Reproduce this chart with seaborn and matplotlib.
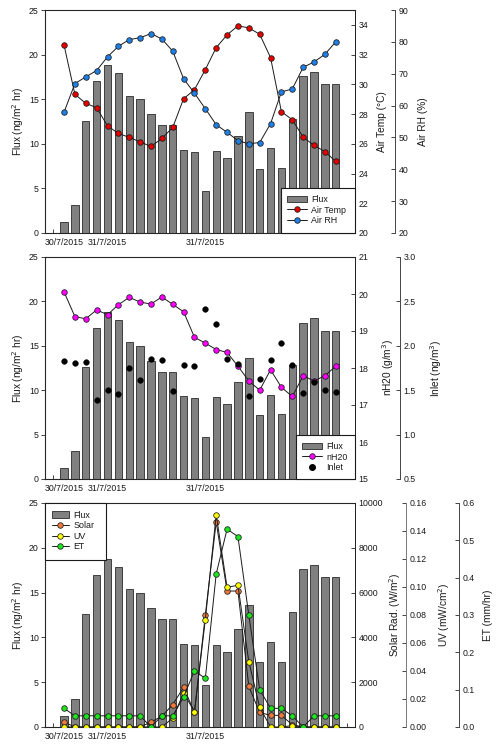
import numpy as np
import pandas as pd
import matplotlib
matplotlib.use("Agg")
import matplotlib.pyplot as plt
import seaborn as sns
from matplotlib.patches import Patch, Rectangle
from matplotlib.lines import Line2D
from matplotlib.ticker import FormatStrFormatter

sns.set_style("ticks")
plt.rcParams["font.family"] = ["Liberation Sans", "DejaVu Sans"]

# ---------------- data ----------------
hours = list(range(26))
date_tick_pos = [0, 4, 13]
date_tick_labels = ["30/7/2015", "31/7/2015", "31/7/2015"]

flux = [1.2, 3.1, 12.6, 17.0, 18.8, 17.9, 15.4, 15.0, 13.3, 12.1, 12.1, 9.3, 9.1,
        4.7, 9.2, 8.4, 10.9, 13.6, 7.2, 9.5, 7.3, 12.8, 17.6, 18.1, 16.7, 16.7]

air_temp = [32.65, 29.33, 28.72, 28.43, 27.21, 26.70, 26.43, 26.13, 25.82, 26.36,
            27.10, 29.03, 29.64, 30.99, 32.47, 33.33, 33.93, 33.80, 33.37, 31.80,
            28.16, 27.62, 26.45, 25.89, 25.48, 24.81]
air_rh = [57.9, 66.9, 69.0, 71.0, 75.3, 78.6, 80.7, 81.3, 82.6, 80.9, 77.1, 68.4,
          63.9, 59.0, 54.0, 51.6, 49.0, 48.0, 48.4, 54.3, 64.3, 65.2, 72.0, 73.7,
          76.1, 80.0]

nh20 = [20.06, 19.39, 19.33, 19.57, 19.44, 19.71, 19.91, 19.78, 19.73, 19.92,
        19.72, 19.52, 18.83, 18.67, 18.50, 18.42, 18.05, 17.65, 17.40, 17.95,
        17.48, 17.23, 17.79, 17.65, 17.79, 18.05]
inlet = [1.83, 1.81, 1.82, 1.39, 1.50, 1.46, 1.75, 1.61, 1.85, 1.84, 1.49, 1.78,
         1.77, 2.42, 2.24, 1.85, 1.79, 1.43, 1.63, 1.84, 2.03, 1.78, 1.47, 1.59,
         1.50, 1.48]

solar = [220, 0, 0, 0, 0, 0, 0, 0, 220, 480, 1000, 1770, 650, 5000, 9150, 6070,
         6070, 1810, 650, 520, 520, 100, 0, 0, 0, 0]
uv = [0, 0, 0, 0, 0, 0, 0, 0, 0, 0, 0.0064, 0.0243, 0.011, 0.0767, 0.1517, 0.0998,
      0.1012, 0.0467, 0.014, 0, 0, 0.001, 0, 0, 0, 0]
et = [0.05, 0.03, 0.03, 0.03, 0.03, 0.03, 0.03, 0.03, 0.0, 0.03, 0.03, 0.08, 0.151,
      0.13, 0.41, 0.53, 0.51, 0.30, 0.10, 0.05, 0.05, 0.03, 0.0, 0.03, 0.03, 0.03]

# ---------------- styling ----------------
W, H = 502, 749
AX_L, AX_R = 45, 355
TICK_FS = 6.3
LAB_FS = 7.3
LEG_FS = 6.4
TXT = "#1a1a1a"
BAR_C = "#808080"
BAR_E = "#2a2a2a"
XLIM = (-1.75, 26.77)
MS = 4.0

fig = plt.figure(figsize=(W / 100, H / 100), dpi=100)


def px_axes(top, bottom):
    return fig.add_axes([AX_L / W, (H - bottom) / H, (AX_R - AX_L) / W, (bottom - top) / H])


def style_main(ax):
    sns.barplot(x=hours, y=flux, ax=ax, color=BAR_C, width=0.68, edgecolor=BAR_E,
                linewidth=0.6, saturation=1, order=hours)
    ax.set_ylim(0, 25)
    ax.set_yticks([0, 5, 10, 15, 20, 25])
    ax.set_ylabel("Flux (ng/m$^2$ hr)", fontsize=LAB_FS, color=TXT)
    ax.yaxis.set_label_coords(-0.062, 0.5)
    ax.set_xlabel("")
    ax.set_xticks(date_tick_pos)
    ax.set_xticklabels(date_tick_labels)
    ax.set_xticks([-1, 26], minor=True)
    ax.tick_params(axis="x", which="major", length=0, pad=3.5, labelsize=TICK_FS, labelcolor=TXT)
    ax.tick_params(axis="x", which="minor", length=3, direction="in", width=0.6)
    ax.tick_params(axis="y", direction="out", length=3, width=0.6, pad=1.5,
                   labelsize=TICK_FS, labelcolor=TXT)
    for s in ax.spines.values():
        s.set_linewidth(0.7)
        s.set_color("#222222")
        s.set_visible(True)


def style_right(ax, ylim, ticks, label, label_x, fmt=None, offset_px=0, spine_c="#222222"):
    ax.set_ylim(*ylim)
    ax.set_yticks(ticks)
    if fmt:
        ax.yaxis.set_major_formatter(FormatStrFormatter(fmt))
    ax.set_ylabel(label, fontsize=LAB_FS, color=TXT)
    ax.yaxis.set_label_coords(label_x, 0.5)
    ax.tick_params(axis="y", direction="in", length=3, width=0.6, pad=2.5,
                   labelsize=TICK_FS, labelcolor=TXT)
    if offset_px:
        ax.spines["right"].set_position(("axes", 1 + offset_px / (AX_R - AX_L)))
        for k in ("left", "top", "bottom"):
            ax.spines[k].set_visible(False)
    ax.spines["right"].set_linewidth(0.7)
    ax.spines["right"].set_color(spine_c)


def line(ax, y, face):
    sns.lineplot(x=hours, y=y, ax=ax, color="#1a1a1a", lw=0.7, marker="o", ms=MS,
                 mfc=face, mec="#1a1a1a", mew=0.55, sort=False)


def legend_box(ax, handles, labels, box, anchor, top, bottom, hl):
    x0, y0, x1, y1 = box
    hgt = bottom - top
    rx0 = (x0 - AX_L) / (AX_R - AX_L)
    rx1 = (x1 - AX_L) / (AX_R - AX_L)
    ry0 = (bottom - y1) / hgt
    ry1 = (bottom - y0) / hgt
    rect = Rectangle((rx0, ry0), rx1 - rx0, ry1 - ry0, transform=ax.transAxes,
                     facecolor="white", edgecolor="#1a1a1a", linewidth=0.8, zorder=20,
                     clip_on=False)
    ax.add_patch(rect)
    ax_x = (anchor[0] - AX_L) / (AX_R - AX_L)
    ax_y = (bottom - anchor[1]) / hgt
    leg = ax.legend(handles, labels, loc="upper left", bbox_to_anchor=(ax_x, ax_y),
                    frameon=False, fontsize=LEG_FS, borderaxespad=0, borderpad=0,
                    handlelength=hl, handletextpad=0.5, labelspacing=0.18, numpoints=1)
    leg.set_zorder(21)
    for t in leg.get_texts():
        t.set_color(TXT)


def line_handle(face):
    return Line2D([], [], color="#1a1a1a", lw=0.7, marker="o", ms=MS, mfc=face,
                  mec="#1a1a1a", mew=0.55)


flux_handle = Patch(facecolor=BAR_C, edgecolor=BAR_E, linewidth=0.6)

# ---------------- panel 1 ----------------
T1, B1 = 10, 233
ax1 = px_axes(T1, B1)
style_main(ax1)
ax1b = ax1.twinx()
line(ax1b, air_temp, "#e60000")
style_right(ax1b, (20, 35), list(range(20, 35, 2)), "Air Temp (°C)", 1.071)
ax1c = ax1.twinx()
line(ax1c, air_rh, "#1e7fe6")
style_right(ax1c, (20, 90), list(range(20, 91, 10)), "Air RH (%)", 1.204,
            offset_px=40, spine_c="#444444")
ax1.set_xlim(*XLIM)
legend_box(ax1c, [flux_handle, line_handle("#e60000"), line_handle("#1e7fe6")],
           ["Flux", "Air Temp", "Air RH"], (281, 188, 355, 233), (287, 195), T1, B1, 2.25)

# ---------------- panel 2 ----------------
T2, B2 = 257, 479
ax2 = px_axes(T2, B2)
style_main(ax2)
ax2b = ax2.twinx()
line(ax2b, nh20, "#ff00ff")
style_right(ax2b, (15, 21), list(range(15, 22)), "nH20 (g/m$^3$)", 1.081)
ax2c = ax2.twinx()
sns.scatterplot(x=hours, y=inlet, ax=ax2c, color="black", s=17, edgecolor="black",
                linewidth=0.3)
style_right(ax2c, (0.5, 3.0), [0.5, 1.0, 1.5, 2.0, 2.5, 3.0], "Inlet (ng/m$^3$)", 1.235,
            fmt="%.1f", offset_px=45, spine_c="#444444")
ax2.set_xlim(*XLIM)
inlet_handle = Line2D([], [], lw=0, marker="o", ms=MS, mfc="black", mec="black")
legend_box(ax2c, [flux_handle, line_handle("#ff00ff"), inlet_handle],
           ["Flux", "nH20", "Inlet"], (296, 435, 355, 479), (301.7, 442), T2, B2, 2.3)

# ---------------- panel 3 ----------------
T3, B3 = 503, 727
ax3 = px_axes(T3, B3)
style_main(ax3)
ax3b = ax3.twinx()
line(ax3b, solar, "#f07a3c")
style_right(ax3b, (0, 10000), list(range(0, 10001, 2000)), "Solar Rad. (W/m$^2$)", 1.103)
ax3c = ax3.twinx()
line(ax3c, uv, "#ffff00")
style_right(ax3c, (0, 0.16), [0, 0.02, 0.04, 0.06, 0.08, 0.10, 0.12, 0.14, 0.16],
            "UV (mW/cm$^2$)", 1.261, fmt="%.2f", offset_px=50.7, spine_c="#777777")
ax3d = ax3.twinx()
line(ax3d, et, "#1ee61e")
style_right(ax3d, (0, 0.6), [0, 0.1, 0.2, 0.3, 0.4, 0.5, 0.6], "ET (mm/hr)", 1.413,
            fmt="%.1f", offset_px=104, spine_c="#444444")
ax3.set_xlim(*XLIM)
legend_box(ax3d, [flux_handle, line_handle("#f07a3c"), line_handle("#ffff00"),
                  line_handle("#1ee61e")],
           ["Flux", "Solar", "UV", "ET"], (45, 503, 106, 560), (51.7, 510.5), T3, B3, 1.9)

fig.savefig("out.png", dpi=100)
